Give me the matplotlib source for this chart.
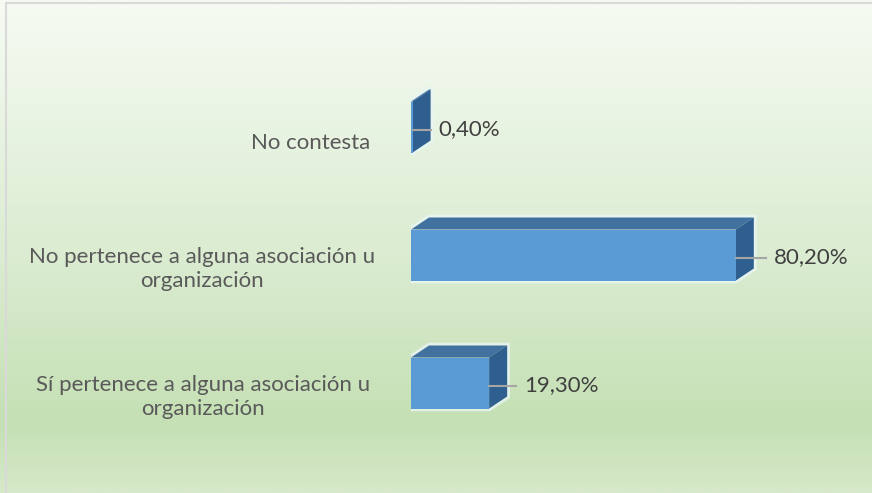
import numpy as np
import matplotlib
matplotlib.use("Agg")
import matplotlib.pyplot as plt
from matplotlib.patches import Polygon
from matplotlib.colors import LinearSegmentedColormap
import matplotlib.transforms as mtransforms

# data
categories = ["Sí pertenece a alguna asociación u\norganización",
              "No pertenece a alguna asociación u\norganización",
              "No contesta"]
values = [19.30, 80.20, 0.40]
value_labels = ["19,30%", "80,20%", "0,40%"]

W, H = 872, 493
fig = plt.figure(figsize=(W / 100, H / 100), dpi=100)

# background gradient + border
bg = fig.add_axes([0, 0, 1, 1])
grad = LinearSegmentedColormap.from_list(
    "g", [(0.0, "#d6e9c9"), (0.14, "#c5e0b4"), (0.45, "#d9ebcf"), (1.0, "#f6fbf3")])
bg.imshow(np.linspace(0, 1, 256).reshape(-1, 1), aspect="auto", cmap=grad,
          origin="lower", extent=[0, 1, 0, 1])
bg.plot([6 / W, 6 / W], [0, 1 - 3 / H], color="#d9d9d9", lw=1.5)
bg.plot([6 / W, 1], [1 - 3 / H, 1 - 3 / H], color="#d9d9d9", lw=1.5)
bg.set_xlim(0, 1)
bg.set_ylim(0, 1)
bg.axis("off")

# plot axes: pixel based scaling
x0_px = 411
px_per_pct = 4.05
row_px = 128
y0_px = 110  # first category centre, from bottom
ax = fig.add_axes([x0_px / W, 0, (W - x0_px) / W, 1])
ax.set_xlim(0, (W - x0_px) / px_per_pct)
ax.set_ylim(-y0_px / row_px, (H - y0_px) / row_px)
ax.axis("off")

bar_h = 51 / row_px
dx = 18 / px_per_pct
dy = 12 / row_px

front_c = "#5b9bd5"
top_c = "#41719f"
side_c = "#2f5f8f"

leader_len = [27, 30, 18]   # px from front face end
for i, v in enumerate(values):
    y1 = i - bar_h / 2
    y2 = i + bar_h / 2
    glow = Polygon([(0, y1), (v, y1), (v + dx, y1 + dy), (v + dx, y2 + dy),
                    (dx, y2 + dy), (0, y2)], closed=True, fc="none",
                   ec="#e8f6f4", lw=4, alpha=0.8, zorder=1)
    ax.add_patch(glow)
    ax.add_patch(Polygon([(0, y2), (v, y2), (v + dx, y2 + dy), (dx, y2 + dy)],
                         closed=True, fc=top_c, ec="none", zorder=2))
    ax.add_patch(Polygon([(v, y1), (v + dx, y1 + dy), (v + dx, y2 + dy), (v, y2)],
                         closed=True, fc=side_c, ec="none", zorder=2))
    ax.add_patch(Polygon([(0, y1), (v, y1), (v, y2), (0, y2)],
                         closed=True, fc=front_c, ec="none", zorder=3))
    # leader line + value label
    ly = i - 3 / row_px
    lend = v + leader_len[i] / px_per_pct
    ax.plot([v, lend], [ly, ly], color="#a6a6a6", lw=1.5, zorder=4)
    ax.text(lend + 8 / px_per_pct, ly + 0.01, value_labels[i], fontsize=16,
            family="Lato", color="#404040", ha="left", va="center", zorder=5)

# category labels (x in figure fraction, y in data)
trans = mtransforms.blended_transform_factory(fig.transFigure, ax.transData)
label_x = [203, 202, 311]
label_dy = [0.11, 0.11, 0.125]
for i, lab in enumerate(categories):
    ax.text(label_x[i] / W, i - label_dy[i], lab, transform=trans, fontsize=16,
            family="Lato", color="#595959", ha="center", va="center",
            multialignment="center", linespacing=1.25)

fig.savefig("out.png", dpi=100)
